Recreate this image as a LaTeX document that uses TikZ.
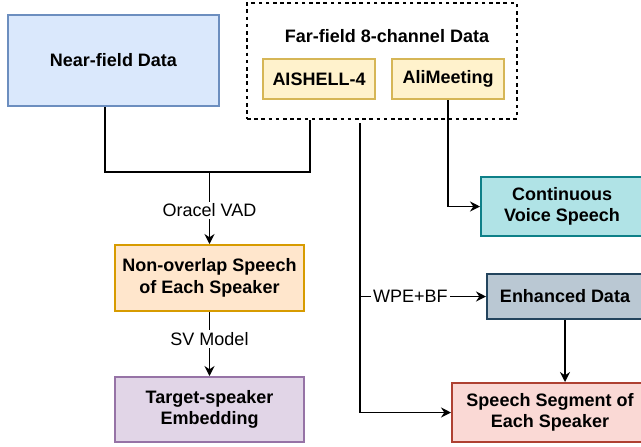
\documentclass[tikz,border=0pt]{standalone}
\usepackage{fontspec}
\setmainfont{Liberation Sans}
\usetikzlibrary{arrows.meta,calc}
\definecolor{nearF}{HTML}{DAE8FC}\definecolor{nearD}{HTML}{6C8EBF}
\definecolor{yelF}{HTML}{FFF2CC}\definecolor{yelD}{HTML}{D6B656}
\definecolor{cyF}{HTML}{B0E3E6}\definecolor{cyD}{HTML}{0E8088}
\definecolor{grF}{HTML}{BAC8D3}\definecolor{grD}{HTML}{23445D}
\definecolor{reF}{HTML}{FAD9D5}\definecolor{reD}{HTML}{AE4132}
\definecolor{orF}{HTML}{FFE6CC}\definecolor{orD}{HTML}{D79B00}
\definecolor{puF}{HTML}{E1D5E7}\definecolor{puD}{HTML}{9673A6}
\tikzset{
  box/.style={draw, line width=1pt, rectangle, align=center, inner sep=0pt,
    font=\fontsize{9}{10.8}\selectfont\bfseries},
  lbl/.style={fill=white, inner sep=1pt, font=\fontsize{9}{10.8}\selectfont},
  conn/.style={line width=0.75pt, draw=black},
  arr/.style={conn, -{Stealth[length=5pt,width=5pt]}}
}
\begin{document}
\begin{tikzpicture}[x=0.5pt,y=-0.5pt]
\useasboundingbox (0,0) rectangle (641,446);
\clip (0,0) rectangle (641,446);
\fill[white] (0,0) rectangle (641,446);
% nodes
\node[box, fill=nearF, draw=nearD, minimum width=105.5pt, minimum height=45.5pt] (near) at (113.5,60.5) {Near-field Data};
\node[draw, dash pattern=on 1.8pt off 1.8pt, line width=0.6pt, minimum width=135pt, minimum height=58pt, inner sep=0pt] (far) at (382,61) {};
\node[font=\fontsize{9}{10.8}\selectfont\bfseries] (title) at (387,36) {Far-field 8-channel Data};
\node[box, fill=yelF, draw=yelD, minimum width=56pt, minimum height=20pt] (ais) at (319,79) {AISHELL-4};
\node[box, fill=yelF, draw=yelD, minimum width=56pt, minimum height=20pt] (ali) at (448,79) {AliMeeting};
\node[box, fill=cyF, draw=cyD, minimum width=81pt, minimum height=29.5pt] (cont) at (562,206.5) {Continuous\\Voice Speech};
\node[box, fill=grF, draw=grD, minimum width=78pt, minimum height=22.5pt] (enh) at (565,296.5) {Enhanced Data};
\node[box, fill=reF, draw=reD, minimum width=98pt, minimum height=29.5pt] (seg) at (550,412.5) {Speech Segment of\\Each Speaker};
\node[box, fill=orF, draw=orD, minimum width=94.5pt, minimum height=33pt] (nonov) at (209.5,278) {Non-overlap Speech\\of Each Speaker};
\node[box, fill=puF, draw=puD, minimum width=94.5pt, minimum height=32.5pt] (target) at (209.5,409.5) {Target-speaker\\Embedding};
% junction coordinates
\coordinate (jn) at (105,172);
\coordinate (jf) at (310,172);
\coordinate (jm) at (209.5,172);
\coordinate (fs) at (360,123);
\coordinate (fb) at (360,412.5);
\coordinate (fw) at (360,296.5);
% connectors
\draw[conn] (near.south -| jn) -- (jn) -- (jf) -- (far.south -| jf);
\draw[arr] (jm) -- node[lbl, pos=0.53]{Oracel VAD} (nonov.north);
\draw[arr] (nonov.south) -- node[lbl, pos=0.42]{SV Model} (target.north);
\draw[arr] (fs) -- (fb) -- (seg.west);
\draw[arr] (fw) -- node[lbl, pos=0.4]{WPE+BF} (enh.west);
\draw[arr] (ali.south) |- (cont.west);
\draw[arr] (enh.south) -- (enh.south |- seg.north);
\end{tikzpicture}
\end{document}
